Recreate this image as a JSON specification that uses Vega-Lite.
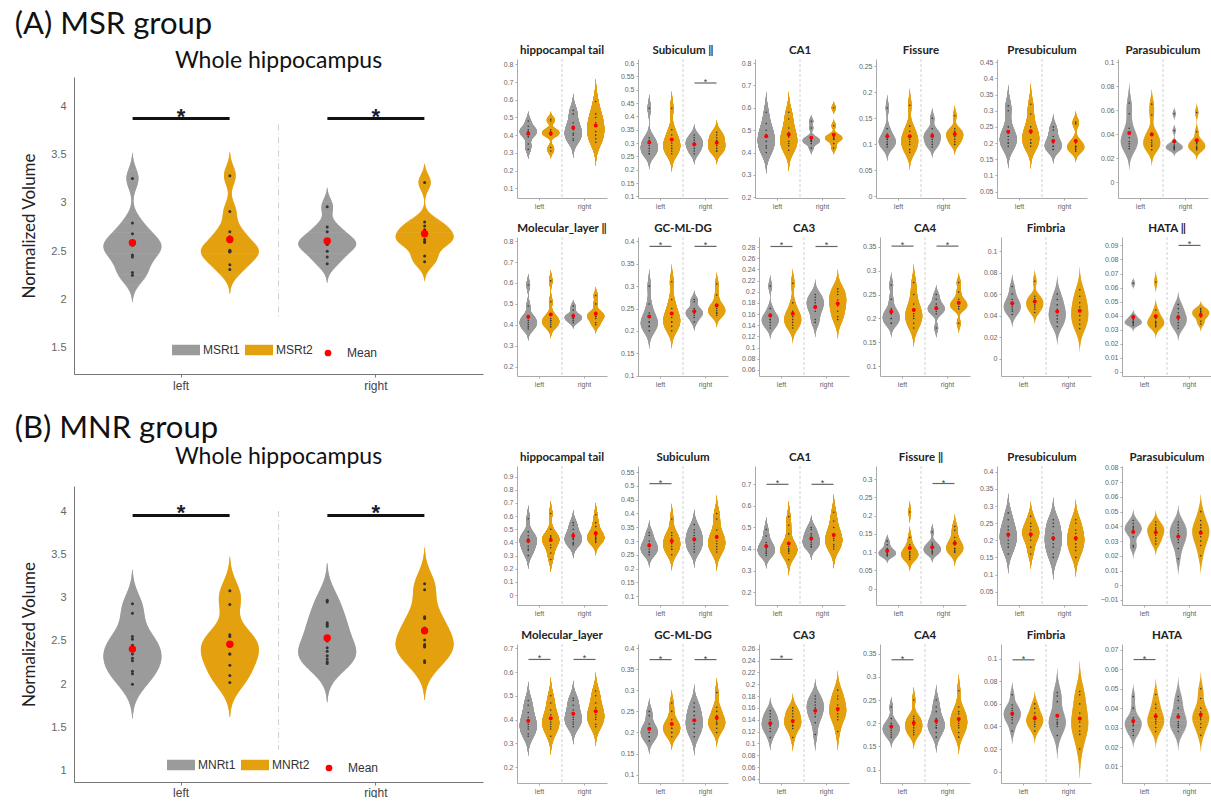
{
"$schema": "https://vega.github.io/schema/vega-lite/v6.json",
"padding": {"left": 14, "top": 8, "right": 0, "bottom": 0},
"config": {"view": {"stroke": null}, "font": "Liberation Sans", "axis": {"grid": false}},
"datasets": {
"WA": [
{"s":"left","t":"t1","v":3.25},{"s":"left","t":"t1","v":2.79},{"s":"left","t":"t1","v":2.68},{"s":"left","t":"t1","v":2.58},{"s":"left","t":"t1","v":2.57},{"s":"left","t":"t1","v":2.56},{"s":"left","t":"t1","v":2.46},{"s":"left","t":"t1","v":2.44},{"s":"left","t":"t1","v":2.28},{"s":"left","t":"t1","v":2.25},
{"s":"left","t":"t2","v":3.28},{"s":"left","t":"t2","v":2.91},{"s":"left","t":"t2","v":2.70},{"s":"left","t":"t2","v":2.65},{"s":"left","t":"t2","v":2.51},{"s":"left","t":"t2","v":2.50},{"s":"left","t":"t2","v":2.50},{"s":"left","t":"t2","v":2.49},{"s":"left","t":"t2","v":2.36},{"s":"left","t":"t2","v":2.31},
{"s":"right","t":"t1","v":2.96},{"s":"right","t":"t1","v":2.75},{"s":"right","t":"t1","v":2.70},{"s":"right","t":"t1","v":2.60},{"s":"right","t":"t1","v":2.60},{"s":"right","t":"t1","v":2.57},{"s":"right","t":"t1","v":2.57},{"s":"right","t":"t1","v":2.50},{"s":"right","t":"t1","v":2.44},{"s":"right","t":"t1","v":2.37},
{"s":"right","t":"t2","v":3.21},{"s":"right","t":"t2","v":2.80},{"s":"right","t":"t2","v":2.76},{"s":"right","t":"t2","v":2.72},{"s":"right","t":"t2","v":2.66},{"s":"right","t":"t2","v":2.62},{"s":"right","t":"t2","v":2.60},{"s":"right","t":"t2","v":2.59},{"s":"right","t":"t2","v":2.45},{"s":"right","t":"t2","v":2.39},
{"s":"left","k":"sig","v":3.87},{"s":"right","k":"sig","v":3.87}
],
"WB": [
{"s":"left","t":"t1","v":2.93},{"s":"left","t":"t1","v":2.82},{"s":"left","t":"t1","v":2.55},{"s":"left","t":"t1","v":2.52},{"s":"left","t":"t1","v":2.45},{"s":"left","t":"t1","v":2.35},{"s":"left","t":"t1","v":2.30},{"s":"left","t":"t1","v":2.27},{"s":"left","t":"t1","v":2.15},{"s":"left","t":"t1","v":2.12},{"s":"left","t":"t1","v":2.00},
{"s":"left","t":"t2","v":3.08},{"s":"left","t":"t2","v":2.92},{"s":"left","t":"t2","v":2.57},{"s":"left","t":"t2","v":2.55},{"s":"left","t":"t2","v":2.46},{"s":"left","t":"t2","v":2.35},{"s":"left","t":"t2","v":2.35},{"s":"left","t":"t2","v":2.22},{"s":"left","t":"t2","v":2.10},{"s":"left","t":"t2","v":2.02},
{"s":"right","t":"t1","v":2.97},{"s":"right","t":"t1","v":2.95},{"s":"right","t":"t1","v":2.71},{"s":"right","t":"t1","v":2.69},{"s":"right","t":"t1","v":2.67},{"s":"right","t":"t1","v":2.50},{"s":"right","t":"t1","v":2.42},{"s":"right","t":"t1","v":2.38},{"s":"right","t":"t1","v":2.33},{"s":"right","t":"t1","v":2.29},{"s":"right","t":"t1","v":2.26},{"s":"right","t":"t1","v":2.24},
{"s":"right","t":"t2","v":3.16},{"s":"right","t":"t2","v":3.09},{"s":"right","t":"t2","v":2.78},{"s":"right","t":"t2","v":2.76},{"s":"right","t":"t2","v":2.65},{"s":"right","t":"t2","v":2.51},{"s":"right","t":"t2","v":2.46},{"s":"right","t":"t2","v":2.44},{"s":"right","t":"t2","v":2.43},{"s":"right","t":"t2","v":2.27},{"s":"right","t":"t2","v":2.25},
{"s":"left","k":"sig","v":3.95},{"s":"right","k":"sig","v":3.95}
],
"A": [
{"r":"hippocampal tail","s":"left","t":"t1","v":0.48},{"r":"hippocampal tail","s":"left","t":"t1","v":0.45},{"r":"hippocampal tail","s":"left","t":"t1","v":0.43},{"r":"hippocampal tail","s":"left","t":"t1","v":0.42},{"r":"hippocampal tail","s":"left","t":"t1","v":0.42},{"r":"hippocampal tail","s":"left","t":"t1","v":0.41},{"r":"hippocampal tail","s":"left","t":"t1","v":0.39},{"r":"hippocampal tail","s":"left","t":"t1","v":0.35},{"r":"hippocampal tail","s":"left","t":"t1","v":0.32},
{"r":"hippocampal tail","s":"left","t":"t2","v":0.49},{"r":"hippocampal tail","s":"left","t":"t2","v":0.48},{"r":"hippocampal tail","s":"left","t":"t2","v":0.43},{"r":"hippocampal tail","s":"left","t":"t2","v":0.42},{"r":"hippocampal tail","s":"left","t":"t2","v":0.41},{"r":"hippocampal tail","s":"left","t":"t2","v":0.41},{"r":"hippocampal tail","s":"left","t":"t2","v":0.40},{"r":"hippocampal tail","s":"left","t":"t2","v":0.33},{"r":"hippocampal tail","s":"left","t":"t2","v":0.31},
{"r":"hippocampal tail","s":"right","t":"t1","v":0.54},{"r":"hippocampal tail","s":"right","t":"t1","v":0.52},{"r":"hippocampal tail","s":"right","t":"t1","v":0.47},{"r":"hippocampal tail","s":"right","t":"t1","v":0.45},{"r":"hippocampal tail","s":"right","t":"t1","v":0.43},{"r":"hippocampal tail","s":"right","t":"t1","v":0.41},{"r":"hippocampal tail","s":"right","t":"t1","v":0.40},{"r":"hippocampal tail","s":"right","t":"t1","v":0.38},{"r":"hippocampal tail","s":"right","t":"t1","v":0.37},
{"r":"hippocampal tail","s":"right","t":"t2","v":0.59},{"r":"hippocampal tail","s":"right","t":"t2","v":0.52},{"r":"hippocampal tail","s":"right","t":"t2","v":0.50},{"r":"hippocampal tail","s":"right","t":"t2","v":0.47},{"r":"hippocampal tail","s":"right","t":"t2","v":0.45},{"r":"hippocampal tail","s":"right","t":"t2","v":0.42},{"r":"hippocampal tail","s":"right","t":"t2","v":0.40},{"r":"hippocampal tail","s":"right","t":"t2","v":0.38},{"r":"hippocampal tail","s":"right","t":"t2","v":0.36},
{"r":"hippocampal tail","k":"lim","v":0.045},{"r":"hippocampal tail","k":"lim","v":0.83},
{"r":"Subiculum","s":"left","t":"t1","v":0.43},{"r":"Subiculum","s":"left","t":"t1","v":0.32},{"r":"Subiculum","s":"left","t":"t1","v":0.31},{"r":"Subiculum","s":"left","t":"t1","v":0.30},{"r":"Subiculum","s":"left","t":"t1","v":0.29},{"r":"Subiculum","s":"left","t":"t1","v":0.28},{"r":"Subiculum","s":"left","t":"t1","v":0.27},{"r":"Subiculum","s":"left","t":"t1","v":0.26},{"r":"Subiculum","s":"left","t":"t1","v":0.26},
{"r":"Subiculum","s":"left","t":"t2","v":0.43},{"r":"Subiculum","s":"left","t":"t2","v":0.35},{"r":"Subiculum","s":"left","t":"t2","v":0.33},{"r":"Subiculum","s":"left","t":"t2","v":0.31},{"r":"Subiculum","s":"left","t":"t2","v":0.30},{"r":"Subiculum","s":"left","t":"t2","v":0.29},{"r":"Subiculum","s":"left","t":"t2","v":0.28},{"r":"Subiculum","s":"left","t":"t2","v":0.27},{"r":"Subiculum","s":"left","t":"t2","v":0.26},
{"r":"Subiculum","s":"right","t":"t1","v":0.33},{"r":"Subiculum","s":"right","t":"t1","v":0.32},{"r":"Subiculum","s":"right","t":"t1","v":0.31},{"r":"Subiculum","s":"right","t":"t1","v":0.30},{"r":"Subiculum","s":"right","t":"t1","v":0.30},{"r":"Subiculum","s":"right","t":"t1","v":0.29},{"r":"Subiculum","s":"right","t":"t1","v":0.28},{"r":"Subiculum","s":"right","t":"t1","v":0.27},{"r":"Subiculum","s":"right","t":"t1","v":0.26},
{"r":"Subiculum","s":"right","t":"t2","v":0.34},{"r":"Subiculum","s":"right","t":"t2","v":0.33},{"r":"Subiculum","s":"right","t":"t2","v":0.32},{"r":"Subiculum","s":"right","t":"t2","v":0.31},{"r":"Subiculum","s":"right","t":"t2","v":0.30},{"r":"Subiculum","s":"right","t":"t2","v":0.29},{"r":"Subiculum","s":"right","t":"t2","v":0.28},{"r":"Subiculum","s":"right","t":"t2","v":0.27},{"r":"Subiculum","s":"right","t":"t2","v":0.27},
{"r":"Subiculum","s":"right","k":"sig","v":0.525},{"r":"Subiculum","k":"lim","v":0.094},{"r":"Subiculum","k":"lim","v":0.615},
{"r":"CA1","s":"left","t":"t1","v":0.58},{"r":"CA1","s":"left","t":"t1","v":0.53},{"r":"CA1","s":"left","t":"t1","v":0.50},{"r":"CA1","s":"left","t":"t1","v":0.48},{"r":"CA1","s":"left","t":"t1","v":0.47},{"r":"CA1","s":"left","t":"t1","v":0.45},{"r":"CA1","s":"left","t":"t1","v":0.43},{"r":"CA1","s":"left","t":"t1","v":0.42},{"r":"CA1","s":"left","t":"t1","v":0.40},
{"r":"CA1","s":"left","t":"t2","v":0.58},{"r":"CA1","s":"left","t":"t2","v":0.55},{"r":"CA1","s":"left","t":"t2","v":0.51},{"r":"CA1","s":"left","t":"t2","v":0.49},{"r":"CA1","s":"left","t":"t2","v":0.47},{"r":"CA1","s":"left","t":"t2","v":0.45},{"r":"CA1","s":"left","t":"t2","v":0.44},{"r":"CA1","s":"left","t":"t2","v":0.43},{"r":"CA1","s":"left","t":"t2","v":0.41},
{"r":"CA1","s":"right","t":"t1","v":0.54},{"r":"CA1","s":"right","t":"t1","v":0.51},{"r":"CA1","s":"right","t":"t1","v":0.47},{"r":"CA1","s":"right","t":"t1","v":0.46},{"r":"CA1","s":"right","t":"t1","v":0.455},{"r":"CA1","s":"right","t":"t1","v":0.45},{"r":"CA1","s":"right","t":"t1","v":0.45},{"r":"CA1","s":"right","t":"t1","v":0.44},{"r":"CA1","s":"right","t":"t1","v":0.42},
{"r":"CA1","s":"right","t":"t2","v":0.60},{"r":"CA1","s":"right","t":"t2","v":0.52},{"r":"CA1","s":"right","t":"t2","v":0.48},{"r":"CA1","s":"right","t":"t2","v":0.47},{"r":"CA1","s":"right","t":"t2","v":0.465},{"r":"CA1","s":"right","t":"t2","v":0.46},{"r":"CA1","s":"right","t":"t2","v":0.46},{"r":"CA1","s":"right","t":"t2","v":0.44},{"r":"CA1","s":"right","t":"t2","v":0.42},
{"r":"CA1","k":"lim","v":0.197},{"r":"CA1","k":"lim","v":0.818},
{"r":"Fissure","s":"left","t":"t1","v":0.17},{"r":"Fissure","s":"left","t":"t1","v":0.13},{"r":"Fissure","s":"left","t":"t1","v":0.12},{"r":"Fissure","s":"left","t":"t1","v":0.11},{"r":"Fissure","s":"left","t":"t1","v":0.11},{"r":"Fissure","s":"left","t":"t1","v":0.105},{"r":"Fissure","s":"left","t":"t1","v":0.10},{"r":"Fissure","s":"left","t":"t1","v":0.10},{"r":"Fissure","s":"left","t":"t1","v":0.095},
{"r":"Fissure","s":"left","t":"t2","v":0.175},{"r":"Fissure","s":"left","t":"t2","v":0.135},{"r":"Fissure","s":"left","t":"t2","v":0.125},{"r":"Fissure","s":"left","t":"t2","v":0.115},{"r":"Fissure","s":"left","t":"t2","v":0.11},{"r":"Fissure","s":"left","t":"t2","v":0.105},{"r":"Fissure","s":"left","t":"t2","v":0.10},{"r":"Fissure","s":"left","t":"t2","v":0.09},{"r":"Fissure","s":"left","t":"t2","v":0.085},
{"r":"Fissure","s":"right","t":"t1","v":0.15},{"r":"Fissure","s":"right","t":"t1","v":0.13},{"r":"Fissure","s":"right","t":"t1","v":0.12},{"r":"Fissure","s":"right","t":"t1","v":0.12},{"r":"Fissure","s":"right","t":"t1","v":0.115},{"r":"Fissure","s":"right","t":"t1","v":0.11},{"r":"Fissure","s":"right","t":"t1","v":0.105},{"r":"Fissure","s":"right","t":"t1","v":0.10},{"r":"Fissure","s":"right","t":"t1","v":0.095},
{"r":"Fissure","s":"right","t":"t2","v":0.155},{"r":"Fissure","s":"right","t":"t2","v":0.13},{"r":"Fissure","s":"right","t":"t2","v":0.125},{"r":"Fissure","s":"right","t":"t2","v":0.12},{"r":"Fissure","s":"right","t":"t2","v":0.12},{"r":"Fissure","s":"right","t":"t2","v":0.115},{"r":"Fissure","s":"right","t":"t2","v":0.11},{"r":"Fissure","s":"right","t":"t2","v":0.105},{"r":"Fissure","s":"right","t":"t2","v":0.10},
{"r":"Fissure","k":"lim","v":-0.003},{"r":"Fissure","k":"lim","v":0.264},
{"r":"Presubiculum","s":"left","t":"t1","v":0.315},{"r":"Presubiculum","s":"left","t":"t1","v":0.30},{"r":"Presubiculum","s":"left","t":"t1","v":0.25},{"r":"Presubiculum","s":"left","t":"t1","v":0.23},{"r":"Presubiculum","s":"left","t":"t1","v":0.22},{"r":"Presubiculum","s":"left","t":"t1","v":0.21},{"r":"Presubiculum","s":"left","t":"t1","v":0.20},{"r":"Presubiculum","s":"left","t":"t1","v":0.20},{"r":"Presubiculum","s":"left","t":"t1","v":0.19},
{"r":"Presubiculum","s":"left","t":"t2","v":0.32},{"r":"Presubiculum","s":"left","t":"t2","v":0.29},{"r":"Presubiculum","s":"left","t":"t2","v":0.25},{"r":"Presubiculum","s":"left","t":"t2","v":0.24},{"r":"Presubiculum","s":"left","t":"t2","v":0.23},{"r":"Presubiculum","s":"left","t":"t2","v":0.21},{"r":"Presubiculum","s":"left","t":"t2","v":0.20},{"r":"Presubiculum","s":"left","t":"t2","v":0.20},{"r":"Presubiculum","s":"left","t":"t2","v":0.19},
{"r":"Presubiculum","s":"right","t":"t1","v":0.25},{"r":"Presubiculum","s":"right","t":"t1","v":0.24},{"r":"Presubiculum","s":"right","t":"t1","v":0.22},{"r":"Presubiculum","s":"right","t":"t1","v":0.21},{"r":"Presubiculum","s":"right","t":"t1","v":0.20},{"r":"Presubiculum","s":"right","t":"t1","v":0.19},{"r":"Presubiculum","s":"right","t":"t1","v":0.19},{"r":"Presubiculum","s":"right","t":"t1","v":0.18},{"r":"Presubiculum","s":"right","t":"t1","v":0.18},
{"r":"Presubiculum","s":"right","t":"t2","v":0.265},{"r":"Presubiculum","s":"right","t":"t2","v":0.26},{"r":"Presubiculum","s":"right","t":"t2","v":0.21},{"r":"Presubiculum","s":"right","t":"t2","v":0.20},{"r":"Presubiculum","s":"right","t":"t2","v":0.19},{"r":"Presubiculum","s":"right","t":"t2","v":0.19},{"r":"Presubiculum","s":"right","t":"t2","v":0.185},{"r":"Presubiculum","s":"right","t":"t2","v":0.18},{"r":"Presubiculum","s":"right","t":"t2","v":0.175},
{"r":"Presubiculum","k":"lim","v":0.03},{"r":"Presubiculum","k":"lim","v":0.46},
{"r":"Parasubiculum","s":"left","t":"t1","v":0.066},{"r":"Parasubiculum","s":"left","t":"t1","v":0.057},{"r":"Parasubiculum","s":"left","t":"t1","v":0.045},{"r":"Parasubiculum","s":"left","t":"t1","v":0.040},{"r":"Parasubiculum","s":"left","t":"t1","v":0.037},{"r":"Parasubiculum","s":"left","t":"t1","v":0.034},{"r":"Parasubiculum","s":"left","t":"t1","v":0.032},{"r":"Parasubiculum","s":"left","t":"t1","v":0.030},{"r":"Parasubiculum","s":"left","t":"t1","v":0.028},
{"r":"Parasubiculum","s":"left","t":"t2","v":0.065},{"r":"Parasubiculum","s":"left","t":"t2","v":0.056},{"r":"Parasubiculum","s":"left","t":"t2","v":0.041},{"r":"Parasubiculum","s":"left","t":"t2","v":0.040},{"r":"Parasubiculum","s":"left","t":"t2","v":0.035},{"r":"Parasubiculum","s":"left","t":"t2","v":0.033},{"r":"Parasubiculum","s":"left","t":"t2","v":0.031},{"r":"Parasubiculum","s":"left","t":"t2","v":0.030},{"r":"Parasubiculum","s":"left","t":"t2","v":0.027},
{"r":"Parasubiculum","s":"right","t":"t1","v":0.057},{"r":"Parasubiculum","s":"right","t":"t1","v":0.043},{"r":"Parasubiculum","s":"right","t":"t1","v":0.033},{"r":"Parasubiculum","s":"right","t":"t1","v":0.031},{"r":"Parasubiculum","s":"right","t":"t1","v":0.030},{"r":"Parasubiculum","s":"right","t":"t1","v":0.029},{"r":"Parasubiculum","s":"right","t":"t1","v":0.029},{"r":"Parasubiculum","s":"right","t":"t1","v":0.028},{"r":"Parasubiculum","s":"right","t":"t1","v":0.027},
{"r":"Parasubiculum","s":"right","t":"t2","v":0.058},{"r":"Parasubiculum","s":"right","t":"t2","v":0.042},{"r":"Parasubiculum","s":"right","t":"t2","v":0.035},{"r":"Parasubiculum","s":"right","t":"t2","v":0.033},{"r":"Parasubiculum","s":"right","t":"t2","v":0.032},{"r":"Parasubiculum","s":"right","t":"t2","v":0.030},{"r":"Parasubiculum","s":"right","t":"t2","v":0.029},{"r":"Parasubiculum","s":"right","t":"t2","v":0.028},{"r":"Parasubiculum","s":"right","t":"t2","v":0.027},
{"r":"Parasubiculum","k":"lim","v":-0.013},{"r":"Parasubiculum","k":"lim","v":0.1025},
{"r":"Molecular_layer","s":"left","t":"t1","v":0.59},{"r":"Molecular_layer","s":"left","t":"t1","v":0.49},{"r":"Molecular_layer","s":"left","t":"t1","v":0.44},{"r":"Molecular_layer","s":"left","t":"t1","v":0.43},{"r":"Molecular_layer","s":"left","t":"t1","v":0.42},{"r":"Molecular_layer","s":"left","t":"t1","v":0.41},{"r":"Molecular_layer","s":"left","t":"t1","v":0.40},{"r":"Molecular_layer","s":"left","t":"t1","v":0.39},{"r":"Molecular_layer","s":"left","t":"t1","v":0.38},
{"r":"Molecular_layer","s":"left","t":"t2","v":0.61},{"r":"Molecular_layer","s":"left","t":"t2","v":0.51},{"r":"Molecular_layer","s":"left","t":"t2","v":0.45},{"r":"Molecular_layer","s":"left","t":"t2","v":0.43},{"r":"Molecular_layer","s":"left","t":"t2","v":0.42},{"r":"Molecular_layer","s":"left","t":"t2","v":0.42},{"r":"Molecular_layer","s":"left","t":"t2","v":0.41},{"r":"Molecular_layer","s":"left","t":"t2","v":0.40},{"r":"Molecular_layer","s":"left","t":"t2","v":0.39},
{"r":"Molecular_layer","s":"right","t":"t1","v":0.49},{"r":"Molecular_layer","s":"right","t":"t1","v":0.47},{"r":"Molecular_layer","s":"right","t":"t1","v":0.45},{"r":"Molecular_layer","s":"right","t":"t1","v":0.44},{"r":"Molecular_layer","s":"right","t":"t1","v":0.44},{"r":"Molecular_layer","s":"right","t":"t1","v":0.43},{"r":"Molecular_layer","s":"right","t":"t1","v":0.43},{"r":"Molecular_layer","s":"right","t":"t1","v":0.42},{"r":"Molecular_layer","s":"right","t":"t1","v":0.41},
{"r":"Molecular_layer","s":"right","t":"t2","v":0.54},{"r":"Molecular_layer","s":"right","t":"t2","v":0.50},{"r":"Molecular_layer","s":"right","t":"t2","v":0.46},{"r":"Molecular_layer","s":"right","t":"t2","v":0.45},{"r":"Molecular_layer","s":"right","t":"t2","v":0.44},{"r":"Molecular_layer","s":"right","t":"t2","v":0.44},{"r":"Molecular_layer","s":"right","t":"t2","v":0.43},{"r":"Molecular_layer","s":"right","t":"t2","v":0.41},{"r":"Molecular_layer","s":"right","t":"t2","v":0.40},
{"r":"Molecular_layer","k":"lim","v":0.155},{"r":"Molecular_layer","k":"lim","v":0.82},
{"r":"GC-ML-DG","s":"left","t":"t1","v":0.30},{"r":"GC-ML-DG","s":"left","t":"t1","v":0.26},{"r":"GC-ML-DG","s":"left","t":"t1","v":0.24},{"r":"GC-ML-DG","s":"left","t":"t1","v":0.23},{"r":"GC-ML-DG","s":"left","t":"t1","v":0.22},{"r":"GC-ML-DG","s":"left","t":"t1","v":0.22},{"r":"GC-ML-DG","s":"left","t":"t1","v":0.21},{"r":"GC-ML-DG","s":"left","t":"t1","v":0.21},{"r":"GC-ML-DG","s":"left","t":"t1","v":0.20},
{"r":"GC-ML-DG","s":"left","t":"t2","v":0.31},{"r":"GC-ML-DG","s":"left","t":"t2","v":0.27},{"r":"GC-ML-DG","s":"left","t":"t2","v":0.25},{"r":"GC-ML-DG","s":"left","t":"t2","v":0.24},{"r":"GC-ML-DG","s":"left","t":"t2","v":0.23},{"r":"GC-ML-DG","s":"left","t":"t2","v":0.22},{"r":"GC-ML-DG","s":"left","t":"t2","v":0.22},{"r":"GC-ML-DG","s":"left","t":"t2","v":0.21},{"r":"GC-ML-DG","s":"left","t":"t2","v":0.20},
{"r":"GC-ML-DG","s":"right","t":"t1","v":0.27},{"r":"GC-ML-DG","s":"right","t":"t1","v":0.265},{"r":"GC-ML-DG","s":"right","t":"t1","v":0.25},{"r":"GC-ML-DG","s":"right","t":"t1","v":0.245},{"r":"GC-ML-DG","s":"right","t":"t1","v":0.24},{"r":"GC-ML-DG","s":"right","t":"t1","v":0.24},{"r":"GC-ML-DG","s":"right","t":"t1","v":0.235},{"r":"GC-ML-DG","s":"right","t":"t1","v":0.23},{"r":"GC-ML-DG","s":"right","t":"t1","v":0.22},
{"r":"GC-ML-DG","s":"right","t":"t2","v":0.305},{"r":"GC-ML-DG","s":"right","t":"t2","v":0.28},{"r":"GC-ML-DG","s":"right","t":"t2","v":0.26},{"r":"GC-ML-DG","s":"right","t":"t2","v":0.255},{"r":"GC-ML-DG","s":"right","t":"t2","v":0.25},{"r":"GC-ML-DG","s":"right","t":"t2","v":0.245},{"r":"GC-ML-DG","s":"right","t":"t2","v":0.24},{"r":"GC-ML-DG","s":"right","t":"t2","v":0.24},{"r":"GC-ML-DG","s":"right","t":"t2","v":0.235},
{"r":"GC-ML-DG","s":"left","k":"sig","v":0.389},{"r":"GC-ML-DG","s":"right","k":"sig","v":0.389},{"r":"GC-ML-DG","k":"lim","v":0.099},{"r":"GC-ML-DG","k":"lim","v":0.41},
{"r":"CA3","s":"left","t":"t1","v":0.21},{"r":"CA3","s":"left","t":"t1","v":0.17},{"r":"CA3","s":"left","t":"t1","v":0.16},{"r":"CA3","s":"left","t":"t1","v":0.155},{"r":"CA3","s":"left","t":"t1","v":0.15},{"r":"CA3","s":"left","t":"t1","v":0.15},{"r":"CA3","s":"left","t":"t1","v":0.145},{"r":"CA3","s":"left","t":"t1","v":0.14},{"r":"CA3","s":"left","t":"t1","v":0.135},
{"r":"CA3","s":"left","t":"t2","v":0.215},{"r":"CA3","s":"left","t":"t2","v":0.18},{"r":"CA3","s":"left","t":"t2","v":0.165},{"r":"CA3","s":"left","t":"t2","v":0.16},{"r":"CA3","s":"left","t":"t2","v":0.155},{"r":"CA3","s":"left","t":"t2","v":0.15},{"r":"CA3","s":"left","t":"t2","v":0.145},{"r":"CA3","s":"left","t":"t2","v":0.14},{"r":"CA3","s":"left","t":"t2","v":0.135},
{"r":"CA3","s":"right","t":"t1","v":0.195},{"r":"CA3","s":"right","t":"t1","v":0.19},{"r":"CA3","s":"right","t":"t1","v":0.185},{"r":"CA3","s":"right","t":"t1","v":0.18},{"r":"CA3","s":"right","t":"t1","v":0.175},{"r":"CA3","s":"right","t":"t1","v":0.17},{"r":"CA3","s":"right","t":"t1","v":0.165},{"r":"CA3","s":"right","t":"t1","v":0.15},{"r":"CA3","s":"right","t":"t1","v":0.145},
{"r":"CA3","s":"right","t":"t2","v":0.205},{"r":"CA3","s":"right","t":"t2","v":0.20},{"r":"CA3","s":"right","t":"t2","v":0.195},{"r":"CA3","s":"right","t":"t2","v":0.185},{"r":"CA3","s":"right","t":"t2","v":0.18},{"r":"CA3","s":"right","t":"t2","v":0.175},{"r":"CA3","s":"right","t":"t2","v":0.165},{"r":"CA3","s":"right","t":"t2","v":0.155},{"r":"CA3","s":"right","t":"t2","v":0.15},
{"r":"CA3","s":"left","k":"sig","v":0.281},{"r":"CA3","s":"right","k":"sig","v":0.281},{"r":"CA3","k":"lim","v":0.049},{"r":"CA3","k":"lim","v":0.298},
{"r":"CA4","s":"left","t":"t1","v":0.27},{"r":"CA4","s":"left","t":"t1","v":0.24},{"r":"CA4","s":"left","t":"t1","v":0.22},{"r":"CA4","s":"left","t":"t1","v":0.21},{"r":"CA4","s":"left","t":"t1","v":0.21},{"r":"CA4","s":"left","t":"t1","v":0.20},{"r":"CA4","s":"left","t":"t1","v":0.20},{"r":"CA4","s":"left","t":"t1","v":0.19},{"r":"CA4","s":"left","t":"t1","v":0.19},
{"r":"CA4","s":"left","t":"t2","v":0.275},{"r":"CA4","s":"left","t":"t2","v":0.25},{"r":"CA4","s":"left","t":"t2","v":0.23},{"r":"CA4","s":"left","t":"t2","v":0.22},{"r":"CA4","s":"left","t":"t2","v":0.21},{"r":"CA4","s":"left","t":"t2","v":0.205},{"r":"CA4","s":"left","t":"t2","v":0.20},{"r":"CA4","s":"left","t":"t2","v":0.19},{"r":"CA4","s":"left","t":"t2","v":0.18},
{"r":"CA4","s":"right","t":"t1","v":0.25},{"r":"CA4","s":"right","t":"t1","v":0.24},{"r":"CA4","s":"right","t":"t1","v":0.23},{"r":"CA4","s":"right","t":"t1","v":0.225},{"r":"CA4","s":"right","t":"t1","v":0.22},{"r":"CA4","s":"right","t":"t1","v":0.22},{"r":"CA4","s":"right","t":"t1","v":0.215},{"r":"CA4","s":"right","t":"t1","v":0.21},{"r":"CA4","s":"right","t":"t1","v":0.18},
{"r":"CA4","s":"right","t":"t2","v":0.275},{"r":"CA4","s":"right","t":"t2","v":0.255},{"r":"CA4","s":"right","t":"t2","v":0.24},{"r":"CA4","s":"right","t":"t2","v":0.235},{"r":"CA4","s":"right","t":"t2","v":0.23},{"r":"CA4","s":"right","t":"t2","v":0.225},{"r":"CA4","s":"right","t":"t2","v":0.225},{"r":"CA4","s":"right","t":"t2","v":0.22},{"r":"CA4","s":"right","t":"t2","v":0.19},
{"r":"CA4","s":"left","k":"sig","v":0.351},{"r":"CA4","s":"right","k":"sig","v":0.351},{"r":"CA4","k":"lim","v":0.08},{"r":"CA4","k":"lim","v":0.37},
{"r":"Fimbria","s":"left","t":"t1","v":0.067},{"r":"Fimbria","s":"left","t":"t1","v":0.060},{"r":"Fimbria","s":"left","t":"t1","v":0.055},{"r":"Fimbria","s":"left","t":"t1","v":0.052},{"r":"Fimbria","s":"left","t":"t1","v":0.050},{"r":"Fimbria","s":"left","t":"t1","v":0.048},{"r":"Fimbria","s":"left","t":"t1","v":0.046},{"r":"Fimbria","s":"left","t":"t1","v":0.044},{"r":"Fimbria","s":"left","t":"t1","v":0.041},
{"r":"Fimbria","s":"left","t":"t2","v":0.072},{"r":"Fimbria","s":"left","t":"t2","v":0.058},{"r":"Fimbria","s":"left","t":"t2","v":0.056},{"r":"Fimbria","s":"left","t":"t2","v":0.054},{"r":"Fimbria","s":"left","t":"t2","v":0.052},{"r":"Fimbria","s":"left","t":"t2","v":0.050},{"r":"Fimbria","s":"left","t":"t2","v":0.048},{"r":"Fimbria","s":"left","t":"t2","v":0.046},{"r":"Fimbria","s":"left","t":"t2","v":0.043},
{"r":"Fimbria","s":"right","t":"t1","v":0.060},{"r":"Fimbria","s":"right","t":"t1","v":0.055},{"r":"Fimbria","s":"right","t":"t1","v":0.050},{"r":"Fimbria","s":"right","t":"t1","v":0.046},{"r":"Fimbria","s":"right","t":"t1","v":0.043},{"r":"Fimbria","s":"right","t":"t1","v":0.040},{"r":"Fimbria","s":"right","t":"t1","v":0.037},{"r":"Fimbria","s":"right","t":"t1","v":0.034},{"r":"Fimbria","s":"right","t":"t1","v":0.030},
{"r":"Fimbria","s":"right","t":"t2","v":0.064},{"r":"Fimbria","s":"right","t":"t2","v":0.058},{"r":"Fimbria","s":"right","t":"t2","v":0.052},{"r":"Fimbria","s":"right","t":"t2","v":0.048},{"r":"Fimbria","s":"right","t":"t2","v":0.044},{"r":"Fimbria","s":"right","t":"t2","v":0.040},{"r":"Fimbria","s":"right","t":"t2","v":0.036},{"r":"Fimbria","s":"right","t":"t2","v":0.032},{"r":"Fimbria","s":"right","t":"t2","v":0.028},
{"r":"Fimbria","k":"lim","v":-0.016},{"r":"Fimbria","k":"lim","v":0.113},
{"r":"HATA","s":"left","t":"t1","v":0.063},{"r":"HATA","s":"left","t":"t1","v":0.040},{"r":"HATA","s":"left","t":"t1","v":0.038},{"r":"HATA","s":"left","t":"t1","v":0.037},{"r":"HATA","s":"left","t":"t1","v":0.036},{"r":"HATA","s":"left","t":"t1","v":0.035},{"r":"HATA","s":"left","t":"t1","v":0.035},{"r":"HATA","s":"left","t":"t1","v":0.034},{"r":"HATA","s":"left","t":"t1","v":0.033},
{"r":"HATA","s":"left","t":"t2","v":0.064},{"r":"HATA","s":"left","t":"t2","v":0.044},{"r":"HATA","s":"left","t":"t2","v":0.040},{"r":"HATA","s":"left","t":"t2","v":0.038},{"r":"HATA","s":"left","t":"t2","v":0.036},{"r":"HATA","s":"left","t":"t2","v":0.035},{"r":"HATA","s":"left","t":"t2","v":0.034},{"r":"HATA","s":"left","t":"t2","v":0.033},{"r":"HATA","s":"left","t":"t2","v":0.032},
{"r":"HATA","s":"right","t":"t1","v":0.048},{"r":"HATA","s":"right","t":"t1","v":0.045},{"r":"HATA","s":"right","t":"t1","v":0.042},{"r":"HATA","s":"right","t":"t1","v":0.040},{"r":"HATA","s":"right","t":"t1","v":0.038},{"r":"HATA","s":"right","t":"t1","v":0.037},{"r":"HATA","s":"right","t":"t1","v":0.035},{"r":"HATA","s":"right","t":"t1","v":0.033},{"r":"HATA","s":"right","t":"t1","v":0.031},
{"r":"HATA","s":"right","t":"t2","v":0.045},{"r":"HATA","s":"right","t":"t2","v":0.044},{"r":"HATA","s":"right","t":"t2","v":0.043},{"r":"HATA","s":"right","t":"t2","v":0.042},{"r":"HATA","s":"right","t":"t2","v":0.041},{"r":"HATA","s":"right","t":"t2","v":0.040},{"r":"HATA","s":"right","t":"t2","v":0.039},{"r":"HATA","s":"right","t":"t2","v":0.036},{"r":"HATA","s":"right","t":"t2","v":0.034},
{"r":"HATA","s":"right","k":"sig","v":0.090},{"r":"HATA","k":"lim","v":-0.003},{"r":"HATA","k":"lim","v":0.096}
],
"B": [
{"r":"hippocampal tail","s":"left","t":"t1","v":0.58},{"r":"hippocampal tail","s":"left","t":"t1","v":0.48},{"r":"hippocampal tail","s":"left","t":"t1","v":0.45},{"r":"hippocampal tail","s":"left","t":"t1","v":0.43},{"r":"hippocampal tail","s":"left","t":"t1","v":0.42},{"r":"hippocampal tail","s":"left","t":"t1","v":0.42},{"r":"hippocampal tail","s":"left","t":"t1","v":0.40},{"r":"hippocampal tail","s":"left","t":"t1","v":0.37},{"r":"hippocampal tail","s":"left","t":"t1","v":0.35},{"r":"hippocampal tail","s":"left","t":"t1","v":0.34},{"r":"hippocampal tail","s":"left","t":"t1","v":0.30},
{"r":"hippocampal tail","s":"left","t":"t2","v":0.62},{"r":"hippocampal tail","s":"left","t":"t2","v":0.50},{"r":"hippocampal tail","s":"left","t":"t2","v":0.45},{"r":"hippocampal tail","s":"left","t":"t2","v":0.44},{"r":"hippocampal tail","s":"left","t":"t2","v":0.43},{"r":"hippocampal tail","s":"left","t":"t2","v":0.42},{"r":"hippocampal tail","s":"left","t":"t2","v":0.41},{"r":"hippocampal tail","s":"left","t":"t2","v":0.38},{"r":"hippocampal tail","s":"left","t":"t2","v":0.36},{"r":"hippocampal tail","s":"left","t":"t2","v":0.32},{"r":"hippocampal tail","s":"left","t":"t2","v":0.27},
{"r":"hippocampal tail","s":"right","t":"t1","v":0.55},{"r":"hippocampal tail","s":"right","t":"t1","v":0.53},{"r":"hippocampal tail","s":"right","t":"t1","v":0.50},{"r":"hippocampal tail","s":"right","t":"t1","v":0.47},{"r":"hippocampal tail","s":"right","t":"t1","v":0.45},{"r":"hippocampal tail","s":"right","t":"t1","v":0.44},{"r":"hippocampal tail","s":"right","t":"t1","v":0.43},{"r":"hippocampal tail","s":"right","t":"t1","v":0.42},{"r":"hippocampal tail","s":"right","t":"t1","v":0.40},{"r":"hippocampal tail","s":"right","t":"t1","v":0.39},{"r":"hippocampal tail","s":"right","t":"t1","v":0.38},
{"r":"hippocampal tail","s":"right","t":"t2","v":0.61},{"r":"hippocampal tail","s":"right","t":"t2","v":0.55},{"r":"hippocampal tail","s":"right","t":"t2","v":0.52},{"r":"hippocampal tail","s":"right","t":"t2","v":0.48},{"r":"hippocampal tail","s":"right","t":"t2","v":0.46},{"r":"hippocampal tail","s":"right","t":"t2","v":0.45},{"r":"hippocampal tail","s":"right","t":"t2","v":0.44},{"r":"hippocampal tail","s":"right","t":"t2","v":0.43},{"r":"hippocampal tail","s":"right","t":"t2","v":0.42},{"r":"hippocampal tail","s":"right","t":"t2","v":0.41},{"r":"hippocampal tail","s":"right","t":"t2","v":0.40},
{"r":"hippocampal tail","k":"lim","v":-0.075},{"r":"hippocampal tail","k":"lim","v":0.98},
{"r":"Subiculum","s":"left","t":"t1","v":0.33},{"r":"Subiculum","s":"left","t":"t1","v":0.32},{"r":"Subiculum","s":"left","t":"t1","v":0.30},{"r":"Subiculum","s":"left","t":"t1","v":0.29},{"r":"Subiculum","s":"left","t":"t1","v":0.28},{"r":"Subiculum","s":"left","t":"t1","v":0.28},{"r":"Subiculum","s":"left","t":"t1","v":0.27},{"r":"Subiculum","s":"left","t":"t1","v":0.26},{"r":"Subiculum","s":"left","t":"t1","v":0.26},{"r":"Subiculum","s":"left","t":"t1","v":0.25},
{"r":"Subiculum","s":"left","t":"t2","v":0.38},{"r":"Subiculum","s":"left","t":"t2","v":0.33},{"r":"Subiculum","s":"left","t":"t2","v":0.32},{"r":"Subiculum","s":"left","t":"t2","v":0.31},{"r":"Subiculum","s":"left","t":"t2","v":0.30},{"r":"Subiculum","s":"left","t":"t2","v":0.29},{"r":"Subiculum","s":"left","t":"t2","v":0.28},{"r":"Subiculum","s":"left","t":"t2","v":0.27},{"r":"Subiculum","s":"left","t":"t2","v":0.27},{"r":"Subiculum","s":"left","t":"t2","v":0.25},
{"r":"Subiculum","s":"right","t":"t1","v":0.36},{"r":"Subiculum","s":"right","t":"t1","v":0.34},{"r":"Subiculum","s":"right","t":"t1","v":0.33},{"r":"Subiculum","s":"right","t":"t1","v":0.32},{"r":"Subiculum","s":"right","t":"t1","v":0.31},{"r":"Subiculum","s":"right","t":"t1","v":0.30},{"r":"Subiculum","s":"right","t":"t1","v":0.29},{"r":"Subiculum","s":"right","t":"t1","v":0.28},{"r":"Subiculum","s":"right","t":"t1","v":0.27},{"r":"Subiculum","s":"right","t":"t1","v":0.26},
{"r":"Subiculum","s":"right","t":"t2","v":0.40},{"r":"Subiculum","s":"right","t":"t2","v":0.38},{"r":"Subiculum","s":"right","t":"t2","v":0.34},{"r":"Subiculum","s":"right","t":"t2","v":0.32},{"r":"Subiculum","s":"right","t":"t2","v":0.31},{"r":"Subiculum","s":"right","t":"t2","v":0.30},{"r":"Subiculum","s":"right","t":"t2","v":0.29},{"r":"Subiculum","s":"right","t":"t2","v":0.28},{"r":"Subiculum","s":"right","t":"t2","v":0.27},{"r":"Subiculum","s":"right","t":"t2","v":0.26},
{"r":"Subiculum","s":"left","k":"sig","v":0.508},{"r":"Subiculum","k":"lim","v":0.068},{"r":"Subiculum","k":"lim","v":0.572},
{"r":"CA1","s":"left","t":"t1","v":0.49},{"r":"CA1","s":"left","t":"t1","v":0.46},{"r":"CA1","s":"left","t":"t1","v":0.43},{"r":"CA1","s":"left","t":"t1","v":0.42},{"r":"CA1","s":"left","t":"t1","v":0.41},{"r":"CA1","s":"left","t":"t1","v":0.40},{"r":"CA1","s":"left","t":"t1","v":0.39},{"r":"CA1","s":"left","t":"t1","v":0.38},{"r":"CA1","s":"left","t":"t1","v":0.38},{"r":"CA1","s":"left","t":"t1","v":0.37},
{"r":"CA1","s":"left","t":"t2","v":0.55},{"r":"CA1","s":"left","t":"t2","v":0.51},{"r":"CA1","s":"left","t":"t2","v":0.47},{"r":"CA1","s":"left","t":"t2","v":0.43},{"r":"CA1","s":"left","t":"t2","v":0.41},{"r":"CA1","s":"left","t":"t2","v":0.40},{"r":"CA1","s":"left","t":"t2","v":0.40},{"r":"CA1","s":"left","t":"t2","v":0.39},{"r":"CA1","s":"left","t":"t2","v":0.39},{"r":"CA1","s":"left","t":"t2","v":0.38},{"r":"CA1","s":"left","t":"t2","v":0.35},
{"r":"CA1","s":"right","t":"t1","v":0.50},{"r":"CA1","s":"right","t":"t1","v":0.49},{"r":"CA1","s":"right","t":"t1","v":0.47},{"r":"CA1","s":"right","t":"t1","v":0.46},{"r":"CA1","s":"right","t":"t1","v":0.45},{"r":"CA1","s":"right","t":"t1","v":0.44},{"r":"CA1","s":"right","t":"t1","v":0.43},{"r":"CA1","s":"right","t":"t1","v":0.42},{"r":"CA1","s":"right","t":"t1","v":0.41},{"r":"CA1","s":"right","t":"t1","v":0.41},
{"r":"CA1","s":"right","t":"t2","v":0.57},{"r":"CA1","s":"right","t":"t2","v":0.53},{"r":"CA1","s":"right","t":"t2","v":0.50},{"r":"CA1","s":"right","t":"t2","v":0.47},{"r":"CA1","s":"right","t":"t2","v":0.46},{"r":"CA1","s":"right","t":"t2","v":0.45},{"r":"CA1","s":"right","t":"t2","v":0.44},{"r":"CA1","s":"right","t":"t2","v":0.42},{"r":"CA1","s":"right","t":"t2","v":0.41},{"r":"CA1","s":"right","t":"t2","v":0.40},
{"r":"CA1","s":"left","k":"sig","v":0.70},{"r":"CA1","s":"right","k":"sig","v":0.70},{"r":"CA1","k":"lim","v":0.14},{"r":"CA1","k":"lim","v":0.785},
{"r":"Fissure","s":"left","t":"t1","v":0.13},{"r":"Fissure","s":"left","t":"t1","v":0.12},{"r":"Fissure","s":"left","t":"t1","v":0.11},{"r":"Fissure","s":"left","t":"t1","v":0.105},{"r":"Fissure","s":"left","t":"t1","v":0.10},{"r":"Fissure","s":"left","t":"t1","v":0.10},{"r":"Fissure","s":"left","t":"t1","v":0.095},{"r":"Fissure","s":"left","t":"t1","v":0.095},{"r":"Fissure","s":"left","t":"t1","v":0.09},{"r":"Fissure","s":"left","t":"t1","v":0.09},
{"r":"Fissure","s":"left","t":"t2","v":0.21},{"r":"Fissure","s":"left","t":"t2","v":0.14},{"r":"Fissure","s":"left","t":"t2","v":0.12},{"r":"Fissure","s":"left","t":"t2","v":0.11},{"r":"Fissure","s":"left","t":"t2","v":0.10},{"r":"Fissure","s":"left","t":"t2","v":0.10},{"r":"Fissure","s":"left","t":"t2","v":0.095},{"r":"Fissure","s":"left","t":"t2","v":0.09},{"r":"Fissure","s":"left","t":"t2","v":0.09},{"r":"Fissure","s":"left","t":"t2","v":0.085},{"r":"Fissure","s":"left","t":"t2","v":0.08},
{"r":"Fissure","s":"right","t":"t1","v":0.155},{"r":"Fissure","s":"right","t":"t1","v":0.125},{"r":"Fissure","s":"right","t":"t1","v":0.12},{"r":"Fissure","s":"right","t":"t1","v":0.115},{"r":"Fissure","s":"right","t":"t1","v":0.11},{"r":"Fissure","s":"right","t":"t1","v":0.11},{"r":"Fissure","s":"right","t":"t1","v":0.105},{"r":"Fissure","s":"right","t":"t1","v":0.10},{"r":"Fissure","s":"right","t":"t1","v":0.10},{"r":"Fissure","s":"right","t":"t1","v":0.095},
{"r":"Fissure","s":"right","t":"t2","v":0.17},{"r":"Fissure","s":"right","t":"t2","v":0.16},{"r":"Fissure","s":"right","t":"t2","v":0.14},{"r":"Fissure","s":"right","t":"t2","v":0.13},{"r":"Fissure","s":"right","t":"t2","v":0.12},{"r":"Fissure","s":"right","t":"t2","v":0.12},{"r":"Fissure","s":"right","t":"t2","v":0.11},{"r":"Fissure","s":"right","t":"t2","v":0.11},{"r":"Fissure","s":"right","t":"t2","v":0.105},{"r":"Fissure","s":"right","t":"t2","v":0.10},{"r":"Fissure","s":"right","t":"t2","v":0.10},
{"r":"Fissure","s":"right","k":"sig","v":0.288},{"r":"Fissure","k":"lim","v":-0.045},{"r":"Fissure","k":"lim","v":0.336},
{"r":"Presubiculum","s":"left","t":"t1","v":0.28},{"r":"Presubiculum","s":"left","t":"t1","v":0.26},{"r":"Presubiculum","s":"left","t":"t1","v":0.24},{"r":"Presubiculum","s":"left","t":"t1","v":0.23},{"r":"Presubiculum","s":"left","t":"t1","v":0.22},{"r":"Presubiculum","s":"left","t":"t1","v":0.21},{"r":"Presubiculum","s":"left","t":"t1","v":0.20},{"r":"Presubiculum","s":"left","t":"t1","v":0.19},{"r":"Presubiculum","s":"left","t":"t1","v":0.18},{"r":"Presubiculum","s":"left","t":"t1","v":0.16},
{"r":"Presubiculum","s":"left","t":"t2","v":0.27},{"r":"Presubiculum","s":"left","t":"t2","v":0.25},{"r":"Presubiculum","s":"left","t":"t2","v":0.24},{"r":"Presubiculum","s":"left","t":"t2","v":0.23},{"r":"Presubiculum","s":"left","t":"t2","v":0.22},{"r":"Presubiculum","s":"left","t":"t2","v":0.22},{"r":"Presubiculum","s":"left","t":"t2","v":0.21},{"r":"Presubiculum","s":"left","t":"t2","v":0.20},{"r":"Presubiculum","s":"left","t":"t2","v":0.18},{"r":"Presubiculum","s":"left","t":"t2","v":0.16},
{"r":"Presubiculum","s":"right","t":"t1","v":0.26},{"r":"Presubiculum","s":"right","t":"t1","v":0.25},{"r":"Presubiculum","s":"right","t":"t1","v":0.24},{"r":"Presubiculum","s":"right","t":"t1","v":0.22},{"r":"Presubiculum","s":"right","t":"t1","v":0.21},{"r":"Presubiculum","s":"right","t":"t1","v":0.20},{"r":"Presubiculum","s":"right","t":"t1","v":0.19},{"r":"Presubiculum","s":"right","t":"t1","v":0.18},{"r":"Presubiculum","s":"right","t":"t1","v":0.16},{"r":"Presubiculum","s":"right","t":"t1","v":0.15},
{"r":"Presubiculum","s":"right","t":"t2","v":0.26},{"r":"Presubiculum","s":"right","t":"t2","v":0.25},{"r":"Presubiculum","s":"right","t":"t2","v":0.23},{"r":"Presubiculum","s":"right","t":"t2","v":0.22},{"r":"Presubiculum","s":"right","t":"t2","v":0.21},{"r":"Presubiculum","s":"right","t":"t2","v":0.20},{"r":"Presubiculum","s":"right","t":"t2","v":0.19},{"r":"Presubiculum","s":"right","t":"t2","v":0.18},{"r":"Presubiculum","s":"right","t":"t2","v":0.17},{"r":"Presubiculum","s":"right","t":"t2","v":0.15},
{"r":"Presubiculum","k":"lim","v":0.011},{"r":"Presubiculum","k":"lim","v":0.417},
{"r":"Parasubiculum","s":"left","t":"t1","v":0.044},{"r":"Parasubiculum","s":"left","t":"t1","v":0.042},{"r":"Parasubiculum","s":"left","t":"t1","v":0.040},{"r":"Parasubiculum","s":"left","t":"t1","v":0.039},{"r":"Parasubiculum","s":"left","t":"t1","v":0.038},{"r":"Parasubiculum","s":"left","t":"t1","v":0.037},{"r":"Parasubiculum","s":"left","t":"t1","v":0.036},{"r":"Parasubiculum","s":"left","t":"t1","v":0.033},{"r":"Parasubiculum","s":"left","t":"t1","v":0.027},{"r":"Parasubiculum","s":"left","t":"t1","v":0.026},
{"r":"Parasubiculum","s":"left","t":"t2","v":0.043},{"r":"Parasubiculum","s":"left","t":"t2","v":0.041},{"r":"Parasubiculum","s":"left","t":"t2","v":0.039},{"r":"Parasubiculum","s":"left","t":"t2","v":0.038},{"r":"Parasubiculum","s":"left","t":"t2","v":0.037},{"r":"Parasubiculum","s":"left","t":"t2","v":0.036},{"r":"Parasubiculum","s":"left","t":"t2","v":0.034},{"r":"Parasubiculum","s":"left","t":"t2","v":0.032},{"r":"Parasubiculum","s":"left","t":"t2","v":0.030},{"r":"Parasubiculum","s":"left","t":"t2","v":0.028},
{"r":"Parasubiculum","s":"right","t":"t1","v":0.043},{"r":"Parasubiculum","s":"right","t":"t1","v":0.041},{"r":"Parasubiculum","s":"right","t":"t1","v":0.039},{"r":"Parasubiculum","s":"right","t":"t1","v":0.037},{"r":"Parasubiculum","s":"right","t":"t1","v":0.035},{"r":"Parasubiculum","s":"right","t":"t1","v":0.033},{"r":"Parasubiculum","s":"right","t":"t1","v":0.031},{"r":"Parasubiculum","s":"right","t":"t1","v":0.029},{"r":"Parasubiculum","s":"right","t":"t1","v":0.025},{"r":"Parasubiculum","s":"right","t":"t1","v":0.018},
{"r":"Parasubiculum","s":"right","t":"t2","v":0.050},{"r":"Parasubiculum","s":"right","t":"t2","v":0.044},{"r":"Parasubiculum","s":"right","t":"t2","v":0.041},{"r":"Parasubiculum","s":"right","t":"t2","v":0.039},{"r":"Parasubiculum","s":"right","t":"t2","v":0.037},{"r":"Parasubiculum","s":"right","t":"t2","v":0.035},{"r":"Parasubiculum","s":"right","t":"t2","v":0.033},{"r":"Parasubiculum","s":"right","t":"t2","v":0.030},{"r":"Parasubiculum","s":"right","t":"t2","v":0.027},{"r":"Parasubiculum","s":"right","t":"t2","v":0.020},
{"r":"Parasubiculum","k":"lim","v":-0.0134},{"r":"Parasubiculum","k":"lim","v":0.081},
{"r":"Molecular_layer","s":"left","t":"t1","v":0.48},{"r":"Molecular_layer","s":"left","t":"t1","v":0.46},{"r":"Molecular_layer","s":"left","t":"t1","v":0.43},{"r":"Molecular_layer","s":"left","t":"t1","v":0.41},{"r":"Molecular_layer","s":"left","t":"t1","v":0.39},{"r":"Molecular_layer","s":"left","t":"t1","v":0.38},{"r":"Molecular_layer","s":"left","t":"t1","v":0.37},{"r":"Molecular_layer","s":"left","t":"t1","v":0.36},{"r":"Molecular_layer","s":"left","t":"t1","v":0.34},{"r":"Molecular_layer","s":"left","t":"t1","v":0.33},
{"r":"Molecular_layer","s":"left","t":"t2","v":0.50},{"r":"Molecular_layer","s":"left","t":"t2","v":0.47},{"r":"Molecular_layer","s":"left","t":"t2","v":0.44},{"r":"Molecular_layer","s":"left","t":"t2","v":0.42},{"r":"Molecular_layer","s":"left","t":"t2","v":0.40},{"r":"Molecular_layer","s":"left","t":"t2","v":0.39},{"r":"Molecular_layer","s":"left","t":"t2","v":0.38},{"r":"Molecular_layer","s":"left","t":"t2","v":0.37},{"r":"Molecular_layer","s":"left","t":"t2","v":0.36},{"r":"Molecular_layer","s":"left","t":"t2","v":0.33},
{"r":"Molecular_layer","s":"right","t":"t1","v":0.49},{"r":"Molecular_layer","s":"right","t":"t1","v":0.48},{"r":"Molecular_layer","s":"right","t":"t1","v":0.46},{"r":"Molecular_layer","s":"right","t":"t1","v":0.44},{"r":"Molecular_layer","s":"right","t":"t1","v":0.42},{"r":"Molecular_layer","s":"right","t":"t1","v":0.41},{"r":"Molecular_layer","s":"right","t":"t1","v":0.40},{"r":"Molecular_layer","s":"right","t":"t1","v":0.39},{"r":"Molecular_layer","s":"right","t":"t1","v":0.38},{"r":"Molecular_layer","s":"right","t":"t1","v":0.37},
{"r":"Molecular_layer","s":"right","t":"t2","v":0.52},{"r":"Molecular_layer","s":"right","t":"t2","v":0.50},{"r":"Molecular_layer","s":"right","t":"t2","v":0.47},{"r":"Molecular_layer","s":"right","t":"t2","v":0.45},{"r":"Molecular_layer","s":"right","t":"t2","v":0.43},{"r":"Molecular_layer","s":"right","t":"t2","v":0.42},{"r":"Molecular_layer","s":"right","t":"t2","v":0.41},{"r":"Molecular_layer","s":"right","t":"t2","v":0.40},{"r":"Molecular_layer","s":"right","t":"t2","v":0.38},{"r":"Molecular_layer","s":"right","t":"t2","v":0.37},
{"r":"Molecular_layer","s":"left","k":"sig","v":0.653},{"r":"Molecular_layer","s":"right","k":"sig","v":0.653},{"r":"Molecular_layer","k":"lim","v":0.133},{"r":"Molecular_layer","k":"lim","v":0.718},
{"r":"GC-ML-DG","s":"left","t":"t1","v":0.25},{"r":"GC-ML-DG","s":"left","t":"t1","v":0.24},{"r":"GC-ML-DG","s":"left","t":"t1","v":0.22},{"r":"GC-ML-DG","s":"left","t":"t1","v":0.21},{"r":"GC-ML-DG","s":"left","t":"t1","v":0.21},{"r":"GC-ML-DG","s":"left","t":"t1","v":0.20},{"r":"GC-ML-DG","s":"left","t":"t1","v":0.20},{"r":"GC-ML-DG","s":"left","t":"t1","v":0.19},{"r":"GC-ML-DG","s":"left","t":"t1","v":0.19},{"r":"GC-ML-DG","s":"left","t":"t1","v":0.18},
{"r":"GC-ML-DG","s":"left","t":"t2","v":0.27},{"r":"GC-ML-DG","s":"left","t":"t2","v":0.25},{"r":"GC-ML-DG","s":"left","t":"t2","v":0.23},{"r":"GC-ML-DG","s":"left","t":"t2","v":0.22},{"r":"GC-ML-DG","s":"left","t":"t2","v":0.22},{"r":"GC-ML-DG","s":"left","t":"t2","v":0.21},{"r":"GC-ML-DG","s":"left","t":"t2","v":0.21},{"r":"GC-ML-DG","s":"left","t":"t2","v":0.20},{"r":"GC-ML-DG","s":"left","t":"t2","v":0.20},{"r":"GC-ML-DG","s":"left","t":"t2","v":0.19},
{"r":"GC-ML-DG","s":"right","t":"t1","v":0.27},{"r":"GC-ML-DG","s":"right","t":"t1","v":0.26},{"r":"GC-ML-DG","s":"right","t":"t1","v":0.25},{"r":"GC-ML-DG","s":"right","t":"t1","v":0.24},{"r":"GC-ML-DG","s":"right","t":"t1","v":0.23},{"r":"GC-ML-DG","s":"right","t":"t1","v":0.22},{"r":"GC-ML-DG","s":"right","t":"t1","v":0.22},{"r":"GC-ML-DG","s":"right","t":"t1","v":0.21},{"r":"GC-ML-DG","s":"right","t":"t1","v":0.20},{"r":"GC-ML-DG","s":"right","t":"t1","v":0.19},
{"r":"GC-ML-DG","s":"right","t":"t2","v":0.295},{"r":"GC-ML-DG","s":"right","t":"t2","v":0.26},{"r":"GC-ML-DG","s":"right","t":"t2","v":0.25},{"r":"GC-ML-DG","s":"right","t":"t2","v":0.24},{"r":"GC-ML-DG","s":"right","t":"t2","v":0.23},{"r":"GC-ML-DG","s":"right","t":"t2","v":0.225},{"r":"GC-ML-DG","s":"right","t":"t2","v":0.22},{"r":"GC-ML-DG","s":"right","t":"t2","v":0.22},{"r":"GC-ML-DG","s":"right","t":"t2","v":0.21},{"r":"GC-ML-DG","s":"right","t":"t2","v":0.20},
{"r":"GC-ML-DG","s":"left","k":"sig","v":0.373},{"r":"GC-ML-DG","s":"right","k":"sig","v":0.373},{"r":"GC-ML-DG","k":"lim","v":0.08},{"r":"GC-ML-DG","k":"lim","v":0.41},
{"r":"CA3","s":"left","t":"t1","v":0.155},{"r":"CA3","s":"left","t":"t1","v":0.15},{"r":"CA3","s":"left","t":"t1","v":0.145},{"r":"CA3","s":"left","t":"t1","v":0.14},{"r":"CA3","s":"left","t":"t1","v":0.135},{"r":"CA3","s":"left","t":"t1","v":0.13},{"r":"CA3","s":"left","t":"t1","v":0.13},{"r":"CA3","s":"left","t":"t1","v":0.125},{"r":"CA3","s":"left","t":"t1","v":0.12},{"r":"CA3","s":"left","t":"t1","v":0.11},
{"r":"CA3","s":"left","t":"t2","v":0.16},{"r":"CA3","s":"left","t":"t2","v":0.155},{"r":"CA3","s":"left","t":"t2","v":0.15},{"r":"CA3","s":"left","t":"t2","v":0.145},{"r":"CA3","s":"left","t":"t2","v":0.14},{"r":"CA3","s":"left","t":"t2","v":0.135},{"r":"CA3","s":"left","t":"t2","v":0.13},{"r":"CA3","s":"left","t":"t2","v":0.13},{"r":"CA3","s":"left","t":"t2","v":0.125},{"r":"CA3","s":"left","t":"t2","v":0.11},
{"r":"CA3","s":"right","t":"t1","v":0.18},{"r":"CA3","s":"right","t":"t1","v":0.175},{"r":"CA3","s":"right","t":"t1","v":0.17},{"r":"CA3","s":"right","t":"t1","v":0.165},{"r":"CA3","s":"right","t":"t1","v":0.16},{"r":"CA3","s":"right","t":"t1","v":0.155},{"r":"CA3","s":"right","t":"t1","v":0.15},{"r":"CA3","s":"right","t":"t1","v":0.145},{"r":"CA3","s":"right","t":"t1","v":0.135},{"r":"CA3","s":"right","t":"t1","v":0.115},
{"r":"CA3","s":"right","t":"t2","v":0.19},{"r":"CA3","s":"right","t":"t2","v":0.18},{"r":"CA3","s":"right","t":"t2","v":0.175},{"r":"CA3","s":"right","t":"t2","v":0.165},{"r":"CA3","s":"right","t":"t2","v":0.16},{"r":"CA3","s":"right","t":"t2","v":0.155},{"r":"CA3","s":"right","t":"t2","v":0.15},{"r":"CA3","s":"right","t":"t2","v":0.145},{"r":"CA3","s":"right","t":"t2","v":0.14},{"r":"CA3","s":"right","t":"t2","v":0.12},
{"r":"CA3","s":"left","k":"sig","v":0.242},{"r":"CA3","k":"lim","v":0.033},{"r":"CA3","k":"lim","v":0.268},
{"r":"CA4","s":"left","t":"t1","v":0.235},{"r":"CA4","s":"left","t":"t1","v":0.21},{"r":"CA4","s":"left","t":"t1","v":0.20},{"r":"CA4","s":"left","t":"t1","v":0.195},{"r":"CA4","s":"left","t":"t1","v":0.19},{"r":"CA4","s":"left","t":"t1","v":0.19},{"r":"CA4","s":"left","t":"t1","v":0.185},{"r":"CA4","s":"left","t":"t1","v":0.18},{"r":"CA4","s":"left","t":"t1","v":0.175},{"r":"CA4","s":"left","t":"t1","v":0.17},
{"r":"CA4","s":"left","t":"t2","v":0.25},{"r":"CA4","s":"left","t":"t2","v":0.215},{"r":"CA4","s":"left","t":"t2","v":0.21},{"r":"CA4","s":"left","t":"t2","v":0.205},{"r":"CA4","s":"left","t":"t2","v":0.20},{"r":"CA4","s":"left","t":"t2","v":0.195},{"r":"CA4","s":"left","t":"t2","v":0.19},{"r":"CA4","s":"left","t":"t2","v":0.185},{"r":"CA4","s":"left","t":"t2","v":0.18},{"r":"CA4","s":"left","t":"t2","v":0.175},
{"r":"CA4","s":"right","t":"t1","v":0.25},{"r":"CA4","s":"right","t":"t1","v":0.235},{"r":"CA4","s":"right","t":"t1","v":0.225},{"r":"CA4","s":"right","t":"t1","v":0.21},{"r":"CA4","s":"right","t":"t1","v":0.205},{"r":"CA4","s":"right","t":"t1","v":0.20},{"r":"CA4","s":"right","t":"t1","v":0.195},{"r":"CA4","s":"right","t":"t1","v":0.19},{"r":"CA4","s":"right","t":"t1","v":0.19},{"r":"CA4","s":"right","t":"t1","v":0.18},{"r":"CA4","s":"right","t":"t1","v":0.17},
{"r":"CA4","s":"right","t":"t2","v":0.27},{"r":"CA4","s":"right","t":"t2","v":0.235},{"r":"CA4","s":"right","t":"t2","v":0.225},{"r":"CA4","s":"right","t":"t2","v":0.22},{"r":"CA4","s":"right","t":"t2","v":0.21},{"r":"CA4","s":"right","t":"t2","v":0.205},{"r":"CA4","s":"right","t":"t2","v":0.20},{"r":"CA4","s":"right","t":"t2","v":0.195},{"r":"CA4","s":"right","t":"t2","v":0.19},{"r":"CA4","s":"right","t":"t2","v":0.18},{"r":"CA4","s":"right","t":"t2","v":0.17},
{"r":"CA4","s":"left","k":"sig","v":0.337},{"r":"CA4","k":"lim","v":0.071},{"r":"CA4","k":"lim","v":0.371},
{"r":"Fimbria","s":"left","t":"t1","v":0.068},{"r":"Fimbria","s":"left","t":"t1","v":0.059},{"r":"Fimbria","s":"left","t":"t1","v":0.056},{"r":"Fimbria","s":"left","t":"t1","v":0.054},{"r":"Fimbria","s":"left","t":"t1","v":0.052},{"r":"Fimbria","s":"left","t":"t1","v":0.050},{"r":"Fimbria","s":"left","t":"t1","v":0.048},{"r":"Fimbria","s":"left","t":"t1","v":0.046},{"r":"Fimbria","s":"left","t":"t1","v":0.043},{"r":"Fimbria","s":"left","t":"t1","v":0.036},
{"r":"Fimbria","s":"left","t":"t2","v":0.060},{"r":"Fimbria","s":"left","t":"t2","v":0.056},{"r":"Fimbria","s":"left","t":"t2","v":0.052},{"r":"Fimbria","s":"left","t":"t2","v":0.049},{"r":"Fimbria","s":"left","t":"t2","v":0.047},{"r":"Fimbria","s":"left","t":"t2","v":0.046},{"r":"Fimbria","s":"left","t":"t2","v":0.044},{"r":"Fimbria","s":"left","t":"t2","v":0.042},{"r":"Fimbria","s":"left","t":"t2","v":0.040},{"r":"Fimbria","s":"left","t":"t2","v":0.036},
{"r":"Fimbria","s":"right","t":"t1","v":0.070},{"r":"Fimbria","s":"right","t":"t1","v":0.067},{"r":"Fimbria","s":"right","t":"t1","v":0.062},{"r":"Fimbria","s":"right","t":"t1","v":0.050},{"r":"Fimbria","s":"right","t":"t1","v":0.046},{"r":"Fimbria","s":"right","t":"t1","v":0.044},{"r":"Fimbria","s":"right","t":"t1","v":0.043},{"r":"Fimbria","s":"right","t":"t1","v":0.042},{"r":"Fimbria","s":"right","t":"t1","v":0.040},{"r":"Fimbria","s":"right","t":"t1","v":0.032},
{"r":"Fimbria","s":"right","t":"t2","v":0.071},{"r":"Fimbria","s":"right","t":"t2","v":0.068},{"r":"Fimbria","s":"right","t":"t2","v":0.060},{"r":"Fimbria","s":"right","t":"t2","v":0.052},{"r":"Fimbria","s":"right","t":"t2","v":0.047},{"r":"Fimbria","s":"right","t":"t2","v":0.044},{"r":"Fimbria","s":"right","t":"t2","v":0.040},{"r":"Fimbria","s":"right","t":"t2","v":0.036},{"r":"Fimbria","s":"right","t":"t2","v":0.033},{"r":"Fimbria","s":"right","t":"t2","v":0.020},
{"r":"Fimbria","s":"left","k":"sig","v":0.099},{"r":"Fimbria","k":"lim","v":-0.01},{"r":"Fimbria","k":"lim","v":0.113},
{"r":"HATA","s":"left","t":"t1","v":0.046},{"r":"HATA","s":"left","t":"t1","v":0.040},{"r":"HATA","s":"left","t":"t1","v":0.035},{"r":"HATA","s":"left","t":"t1","v":0.034},{"r":"HATA","s":"left","t":"t1","v":0.033},{"r":"HATA","s":"left","t":"t1","v":0.032},{"r":"HATA","s":"left","t":"t1","v":0.031},{"r":"HATA","s":"left","t":"t1","v":0.029},{"r":"HATA","s":"left","t":"t1","v":0.028},{"r":"HATA","s":"left","t":"t1","v":0.026},
{"r":"HATA","s":"left","t":"t2","v":0.047},{"r":"HATA","s":"left","t":"t2","v":0.042},{"r":"HATA","s":"left","t":"t2","v":0.040},{"r":"HATA","s":"left","t":"t2","v":0.037},{"r":"HATA","s":"left","t":"t2","v":0.035},{"r":"HATA","s":"left","t":"t2","v":0.034},{"r":"HATA","s":"left","t":"t2","v":0.033},{"r":"HATA","s":"left","t":"t2","v":0.032},{"r":"HATA","s":"left","t":"t2","v":0.030},{"r":"HATA","s":"left","t":"t2","v":0.028},
{"r":"HATA","s":"right","t":"t1","v":0.046},{"r":"HATA","s":"right","t":"t1","v":0.044},{"r":"HATA","s":"right","t":"t1","v":0.040},{"r":"HATA","s":"right","t":"t1","v":0.037},{"r":"HATA","s":"right","t":"t1","v":0.035},{"r":"HATA","s":"right","t":"t1","v":0.033},{"r":"HATA","s":"right","t":"t1","v":0.032},{"r":"HATA","s":"right","t":"t1","v":0.031},{"r":"HATA","s":"right","t":"t1","v":0.030},{"r":"HATA","s":"right","t":"t1","v":0.028},
{"r":"HATA","s":"right","t":"t2","v":0.050},{"r":"HATA","s":"right","t":"t2","v":0.045},{"r":"HATA","s":"right","t":"t2","v":0.040},{"r":"HATA","s":"right","t":"t2","v":0.038},{"r":"HATA","s":"right","t":"t2","v":0.036},{"r":"HATA","s":"right","t":"t2","v":0.035},{"r":"HATA","s":"right","t":"t2","v":0.034},{"r":"HATA","s":"right","t":"t2","v":0.032},{"r":"HATA","s":"right","t":"t2","v":0.030},{"r":"HATA","s":"right","t":"t2","v":0.026},
{"r":"HATA","s":"left","k":"sig","v":0.065},{"r":"HATA","k":"lim","v":0.0015},{"r":"HATA","k":"lim","v":0.073}
]
},
"spacing": 22,
"resolve": {"scale": {"color": "independent", "fill": "independent", "size": "independent", "xOffset": "independent"}},
"vconcat": [
{
"title": {"text": "(A) MSR group", "anchor": "start", "fontSize": 31, "font": "Lato", "fontWeight": "normal", "color": "#111", "offset": 4, "dx": -6},
"spacing": 20,
"resolve": {"scale": {"color": "independent", "fill": "independent", "size": "independent", "xOffset": "independent", "x": "independent"}},
"hconcat": [
{
"data": {"name": "WA"},
"width": 409, "height": 315,
"title": {"text": "Whole hippocampus", "fontSize": 23, "font": "Lato", "fontWeight": "normal", "color": "#111", "offset": 0, "dy": 14},
"resolve": {"scale": {"size": "independent"}},
"layer": [
{"transform": [{"filter": "datum.s=='left'&&datum.t=='t1'"},{"density": "v","groupby": ["s","t"],"extent": [1,4.3],"steps": 350,"as": ["v","d"]},{"joinaggregate": [{"op": "max","field": "d","as": "m"}],"groupby": ["s","t"]},{"filter": "datum.d>datum.m*0.01"}],
 "mark": {"type": "tick","thickness": 1.6,"opacity": 1},
 "encoding": {
  "x": {"field": "s","type": "nominal","scale": {"domain": ["left","right"],"paddingInner": 0,"paddingOuter": 0.05},"axis": {"title": null,"labelAngle": 0,"labelFontSize": 12,"labelColor": "#444","domainColor": "#777","tickColor": "#777","tickSize": 3,"labelPadding": 3}},
  "xOffset": {"field": "t","type": "nominal","scale": {"domain": ["t1","t2"],"range": [0,194.8],"paddingInner": 0,"paddingOuter": 0}},
  "y": {"field": "v","type": "quantitative","scale": {"domain": [1.23,4.3],"range": [315,18],"nice": false,"zero": false},"axis": {"title": "Normalized Volume","values": [1.5,2,2.5,3,3.5,4],"format": "~g","labelFontSize": 11,"labelColor": "#666","titleFontSize": 17,"titleFont": "Lato","titleFontWeight": "normal","titleColor": "#222","titlePadding": 12,"domainColor": "#777","tickSize": 0,"labelPadding": 8}},
  "size": {"field": "d","type": "quantitative","scale": {"zero": true,"range": [0,58]},"legend": null},
  "color": {"field": "t","type": "nominal","scale": {"domain": ["t1","t2"],"range": ["#9b9b9b","#e4a10f"]},"legend": {"orient": "none","legendX": 98,"legendY": 277,"direction": "horizontal","title": null,"symbolType": "M-1,-0.375H1V0.375H-1Z","symbolSize": 784,"symbolStrokeWidth": 0,"symbolOpacity": 1,"labelExpr": "'MSR' + datum.label","labelFontSize": 12,"labelColor": "#333","labelOffset": 3,"columnPadding": 5,"padding": 0}}}},
{"transform": [{"filter": "datum.s=='left'&&datum.t=='t2'"},{"density": "v","groupby": ["s","t"],"extent": [1,4.3],"steps": 350,"as": ["v","d"]},{"joinaggregate": [{"op": "max","field": "d","as": "m"}],"groupby": ["s","t"]},{"filter": "datum.d>datum.m*0.01"}],
 "mark": {"type": "tick","thickness": 1.6,"opacity": 1},
 "encoding": {"x": {"field": "s","type": "nominal"},"xOffset": {"field": "t","type": "nominal"},"y": {"field": "v","type": "quantitative"},"size": {"field": "d","type": "quantitative","scale": {"zero": true,"range": [0,58]},"legend": null},"color": {"field": "t","type": "nominal"}}},
{"transform": [{"filter": "datum.s=='right'&&datum.t=='t1'"},{"density": "v","groupby": ["s","t"],"extent": [1,4.3],"steps": 350,"as": ["v","d"]},{"joinaggregate": [{"op": "max","field": "d","as": "m"}],"groupby": ["s","t"]},{"filter": "datum.d>datum.m*0.01"}],
 "mark": {"type": "tick","thickness": 1.6,"opacity": 1},
 "encoding": {"x": {"field": "s","type": "nominal"},"xOffset": {"field": "t","type": "nominal"},"y": {"field": "v","type": "quantitative"},"size": {"field": "d","type": "quantitative","scale": {"zero": true,"range": [0,58]},"legend": null},"color": {"field": "t","type": "nominal"}}},
{"transform": [{"filter": "datum.s=='right'&&datum.t=='t2'"},{"density": "v","groupby": ["s","t"],"extent": [1,4.3],"steps": 350,"as": ["v","d"]},{"joinaggregate": [{"op": "max","field": "d","as": "m"}],"groupby": ["s","t"]},{"filter": "datum.d>datum.m*0.01"}],
 "mark": {"type": "tick","thickness": 1.6,"opacity": 1},
 "encoding": {"x": {"field": "s","type": "nominal"},"xOffset": {"field": "t","type": "nominal"},"y": {"field": "v","type": "quantitative"},"size": {"field": "d","type": "quantitative","scale": {"zero": true,"range": [0,58]},"legend": null},"color": {"field": "t","type": "nominal"}}},
{"transform": [{"filter": "datum.s=='right'&&datum.t=='t1'"},{"aggregate": [{"op": "count","as": "n"}],"groupby": ["s"]}],
 "mark": {"type": "rule","color": "#d0d0d0","strokeDash": [6,3,1,3],"strokeWidth": 1},
 "encoding": {"x": {"field": "s","type": "nominal","bandPosition": 0},"y": {"datum": 3.81,"type": "quantitative"},"y2": {"datum": 1.8}}},
{"transform": [{"filter": "isValid(datum.t)"}],
 "mark": {"type": "circle","size": 9,"color": "#333","opacity": 1},
 "encoding": {"x": {"field": "s","type": "nominal"},"xOffset": {"field": "t","type": "nominal"},"y": {"field": "v","type": "quantitative"}}},
{"transform": [{"filter": "isValid(datum.t)"}],
 "mark": {"type": "circle","size": 55,"opacity": 1},
 "encoding": {"x": {"field": "s","type": "nominal"},"xOffset": {"field": "t","type": "nominal"},"y": {"aggregate": "mean","field": "v","type": "quantitative"},
  "fill": {"datum": "Mean","type": "nominal","scale": {"range": ["#ff0000"]},"legend": {"orient": "none","legendX": 248,"legendY": 288,"title": null,"symbolType": "circle","symbolSize": 45,"symbolStrokeWidth": 0,"symbolOpacity": 1,"labelFontSize": 12,"labelColor": "#333","labelOffset": 13,"padding": 0}}}},
{"transform": [{"filter": "datum.k=='sig'"}],
 "mark": {"type": "tick","thickness": 3,"color": "#111","opacity": 1},
 "encoding": {"x": {"field": "s","type": "nominal"},"y": {"field": "v","type": "quantitative"},"size": {"value": 97}}},
{"transform": [{"filter": "datum.k=='sig'"}],
 "mark": {"type": "text","text": "*","fontSize": 22,"fontWeight": "bold","color": "#1c1c30","baseline": "alphabetic","dy": 5},
 "encoding": {"x": {"field": "s","type": "nominal"},"y": {"field": "v","type": "quantitative"}}}
]
},
{
"data": {"name": "A"},
"columns": 6,
"facet": {"field": "r","type": "nominal","sort": ["hippocampal tail","Subiculum","CA1","Fissure","Presubiculum","Parasubiculum","Molecular_layer","GC-ML-DG","CA3","CA4","Fimbria","HATA"],
 "header": {"title": null,"labelFontSize": 11.5,"labelFont": "Lato","labelFontWeight": "bold","labelColor": "#222","labelPadding": 0,"labelExpr": "indexof(['Subiculum','Molecular_layer','HATA'], datum.value) >= 0 ? datum.value + ' ‖' : datum.value"}},
"spacing": {"column": 13, "row": 13},
"resolve": {"scale": {"y": "independent","size": "independent"},"axis": {"x": "independent"}},
"spec": {
"width": 90, "height": 139,
"resolve": {"scale": {"size": "independent"}},
"layer": [
{"transform": [{"filter": "datum.s=='left'&&datum.t=='t1'"},{"density": "v","groupby": ["r","s","t"],"extent": [-0.02,0.8],"steps": 1000,"as": ["v","d"]},{"joinaggregate": [{"op": "max","field": "d","as": "m"}],"groupby": ["r","s","t"]},{"filter": "datum.d>datum.m*0.01"}],
 "mark": {"type": "tick","thickness": 2,"opacity": 1},
 "encoding": {
  "x": {"field": "s","type": "nominal","scale": {"domain": ["left","right"],"range": [0,90],"paddingInner": 0,"paddingOuter": 0},"axis": {"title": null,"labelAngle": 0,"labelFontSize": 7,"labelColor": "#666","domainColor": "#aaa","tickColor": "#aaa","tickSize": 2,"labelPadding": 2}},
  "xOffset": {"field": "t","type": "nominal","scale": {"domain": ["t1","t2"],"range": [0,45],"paddingInner": 0,"paddingOuter": 0}},
  "y": {"field": "v","type": "quantitative","scale": {"zero": false,"nice": false},"axis": {"title": null,"tickCount": 8,"format": "~g","labelFontSize": 7,"labelColor": "#666","domainColor": "#aaa","tickColor": "#aaa","tickSize": 2,"labelPadding": 2}},
  "size": {"field": "d","type": "quantitative","scale": {"zero": true,"range": [0,17]},"legend": null},
  "color": {"field": "t","type": "nominal","scale": {"domain": ["t1","t2"],"range": ["#9b9b9b","#e4a10f"]},"legend": null}}},
{"transform": [{"filter": "datum.s=='left'&&datum.t=='t2'"},{"density": "v","groupby": ["r","s","t"],"extent": [-0.02,0.8],"steps": 1000,"as": ["v","d"]},{"joinaggregate": [{"op": "max","field": "d","as": "m"}],"groupby": ["r","s","t"]},{"filter": "datum.d>datum.m*0.01"}],
 "mark": {"type": "tick","thickness": 2,"opacity": 1},
 "encoding": {"x": {"field": "s","type": "nominal"},"xOffset": {"field": "t","type": "nominal"},"y": {"field": "v","type": "quantitative"},"size": {"field": "d","type": "quantitative","scale": {"zero": true,"range": [0,17]},"legend": null},"color": {"field": "t","type": "nominal"}}},
{"transform": [{"filter": "datum.s=='right'&&datum.t=='t1'"},{"density": "v","groupby": ["r","s","t"],"extent": [-0.02,0.8],"steps": 1000,"as": ["v","d"]},{"joinaggregate": [{"op": "max","field": "d","as": "m"}],"groupby": ["r","s","t"]},{"filter": "datum.d>datum.m*0.01"}],
 "mark": {"type": "tick","thickness": 2,"opacity": 1},
 "encoding": {"x": {"field": "s","type": "nominal"},"xOffset": {"field": "t","type": "nominal"},"y": {"field": "v","type": "quantitative"},"size": {"field": "d","type": "quantitative","scale": {"zero": true,"range": [0,17]},"legend": null},"color": {"field": "t","type": "nominal"}}},
{"transform": [{"filter": "datum.s=='right'&&datum.t=='t2'"},{"density": "v","groupby": ["r","s","t"],"extent": [-0.02,0.8],"steps": 1000,"as": ["v","d"]},{"joinaggregate": [{"op": "max","field": "d","as": "m"}],"groupby": ["r","s","t"]},{"filter": "datum.d>datum.m*0.01"}],
 "mark": {"type": "tick","thickness": 2,"opacity": 1},
 "encoding": {"x": {"field": "s","type": "nominal"},"xOffset": {"field": "t","type": "nominal"},"y": {"field": "v","type": "quantitative"},"size": {"field": "d","type": "quantitative","scale": {"zero": true,"range": [0,17]},"legend": null},"color": {"field": "t","type": "nominal"}}},
{"transform": [{"filter": "datum.s=='right'&&datum.t=='t1'"},{"aggregate": [{"op": "count","as": "n"}],"groupby": ["r","s"]}],
 "mark": {"type": "rule","color": "#d0d0d0","strokeDash": [3,2],"strokeWidth": 1},
 "encoding": {"x": {"field": "s","type": "nominal","bandPosition": 0}}},
{"transform": [{"filter": "isValid(datum.t)"}],
 "mark": {"type": "circle","size": 2.5,"color": "#333","opacity": 1},
 "encoding": {"x": {"field": "s","type": "nominal"},"xOffset": {"field": "t","type": "nominal"},"y": {"field": "v","type": "quantitative"}}},
{"transform": [{"filter": "isValid(datum.t)"}],
 "mark": {"type": "circle","size": 16,"color": "#ff0000","opacity": 1},
 "encoding": {"x": {"field": "s","type": "nominal"},"xOffset": {"field": "t","type": "nominal"},"y": {"aggregate": "mean","field": "v","type": "quantitative"}}},
{"transform": [{"filter": "datum.k=='sig'"}],
 "mark": {"type": "tick","thickness": 1.2,"color": "#666","opacity": 1},
 "encoding": {"x": {"field": "s","type": "nominal"},"y": {"field": "v","type": "quantitative"},"size": {"value": 22}}},
{"transform": [{"filter": "datum.k=='sig'"}],
 "mark": {"type": "text","text": "*","fontSize": 9,"color": "#444","baseline": "alphabetic","dy": 2},
 "encoding": {"x": {"field": "s","type": "nominal"},"y": {"field": "v","type": "quantitative"}}},
{"transform": [{"filter": "datum.k=='lim'"}],
 "mark": {"type": "point","opacity": 0},
 "encoding": {"y": {"field": "v","type": "quantitative"}}}
]
}
}
]
},
{
"title": {"text": "(B) MNR group", "anchor": "start", "fontSize": 31, "font": "Lato", "fontWeight": "normal", "color": "#111", "offset": 1, "dx": -6},
"spacing": 20,
"resolve": {"scale": {"color": "independent", "fill": "independent", "size": "independent", "xOffset": "independent", "x": "independent"}},
"hconcat": [
{
"data": {"name": "WB"},
"width": 409, "height": 316,
"title": {"text": "Whole hippocampus", "fontSize": 23, "font": "Lato", "fontWeight": "normal", "color": "#111", "offset": 0, "dy": 3},
"resolve": {"scale": {"size": "independent"}},
"layer": [
{"transform": [{"filter": "datum.s=='left'&&datum.t=='t1'"},{"density": "v","groupby": ["s","t"],"extent": [0.88,4.29],"steps": 360,"as": ["v","d"]},{"joinaggregate": [{"op": "max","field": "d","as": "m"}],"groupby": ["s","t"]},{"filter": "datum.d>datum.m*0.01"}],
 "mark": {"type": "tick","thickness": 1.6,"opacity": 1},
 "encoding": {
  "x": {"field": "s","type": "nominal","scale": {"domain": ["left","right"],"paddingInner": 0,"paddingOuter": 0.05},"axis": {"title": null,"labelAngle": 0,"labelFontSize": 12,"labelColor": "#444","domainColor": "#777","tickColor": "#777","tickSize": 3,"labelPadding": 2}},
  "xOffset": {"field": "t","type": "nominal","scale": {"domain": ["t1","t2"],"range": [0,194.8],"paddingInner": 0,"paddingOuter": 0}},
  "y": {"field": "v","type": "quantitative","scale": {"domain": [0.87,4.29],"range": [316,20],"nice": false,"zero": false},"axis": {"title": "Normalized Volume","values": [1,1.5,2,2.5,3,3.5,4],"format": "~g","labelFontSize": 11,"labelColor": "#666","titleFontSize": 17,"titleFont": "Lato","titleFontWeight": "normal","titleColor": "#222","titlePadding": 12,"domainColor": "#777","tickSize": 0,"labelPadding": 8}},
  "size": {"field": "d","type": "quantitative","scale": {"zero": true,"range": [0,58]},"legend": null},
  "color": {"field": "t","type": "nominal","scale": {"domain": ["t1","t2"],"range": ["#9b9b9b","#e4a10f"]},"legend": {"orient": "none","legendX": 93,"legendY": 285,"direction": "horizontal","title": null,"symbolType": "M-1,-0.375H1V0.375H-1Z","symbolSize": 784,"symbolStrokeWidth": 0,"symbolOpacity": 1,"labelExpr": "'MNR' + datum.label","labelFontSize": 12,"labelColor": "#333","labelOffset": 3,"columnPadding": 5,"padding": 0}}}},
{"transform": [{"filter": "datum.s=='left'&&datum.t=='t2'"},{"density": "v","groupby": ["s","t"],"extent": [0.88,4.29],"steps": 360,"as": ["v","d"]},{"joinaggregate": [{"op": "max","field": "d","as": "m"}],"groupby": ["s","t"]},{"filter": "datum.d>datum.m*0.01"}],
 "mark": {"type": "tick","thickness": 1.6,"opacity": 1},
 "encoding": {"x": {"field": "s","type": "nominal"},"xOffset": {"field": "t","type": "nominal"},"y": {"field": "v","type": "quantitative"},"size": {"field": "d","type": "quantitative","scale": {"zero": true,"range": [0,58]},"legend": null},"color": {"field": "t","type": "nominal"}}},
{"transform": [{"filter": "datum.s=='right'&&datum.t=='t1'"},{"density": "v","groupby": ["s","t"],"extent": [0.88,4.29],"steps": 360,"as": ["v","d"]},{"joinaggregate": [{"op": "max","field": "d","as": "m"}],"groupby": ["s","t"]},{"filter": "datum.d>datum.m*0.01"}],
 "mark": {"type": "tick","thickness": 1.6,"opacity": 1},
 "encoding": {"x": {"field": "s","type": "nominal"},"xOffset": {"field": "t","type": "nominal"},"y": {"field": "v","type": "quantitative"},"size": {"field": "d","type": "quantitative","scale": {"zero": true,"range": [0,58]},"legend": null},"color": {"field": "t","type": "nominal"}}},
{"transform": [{"filter": "datum.s=='right'&&datum.t=='t2'"},{"density": "v","groupby": ["s","t"],"extent": [0.88,4.29],"steps": 360,"as": ["v","d"]},{"joinaggregate": [{"op": "max","field": "d","as": "m"}],"groupby": ["s","t"]},{"filter": "datum.d>datum.m*0.01"}],
 "mark": {"type": "tick","thickness": 1.6,"opacity": 1},
 "encoding": {"x": {"field": "s","type": "nominal"},"xOffset": {"field": "t","type": "nominal"},"y": {"field": "v","type": "quantitative"},"size": {"field": "d","type": "quantitative","scale": {"zero": true,"range": [0,58]},"legend": null},"color": {"field": "t","type": "nominal"}}},
{"transform": [{"filter": "datum.s=='right'&&datum.t=='t1'"},{"aggregate": [{"op": "count","as": "n"}],"groupby": ["s"]}],
 "mark": {"type": "rule","color": "#d0d0d0","strokeDash": [6,3,1,3],"strokeWidth": 1},
 "encoding": {"x": {"field": "s","type": "nominal","bandPosition": 0},"y": {"datum": 4.0,"type": "quantitative"},"y2": {"datum": 1.25}}},
{"transform": [{"filter": "isValid(datum.t)"}],
 "mark": {"type": "circle","size": 9,"color": "#333","opacity": 1},
 "encoding": {"x": {"field": "s","type": "nominal"},"xOffset": {"field": "t","type": "nominal"},"y": {"field": "v","type": "quantitative"}}},
{"transform": [{"filter": "isValid(datum.t)"}],
 "mark": {"type": "circle","size": 55,"opacity": 1},
 "encoding": {"x": {"field": "s","type": "nominal"},"xOffset": {"field": "t","type": "nominal"},"y": {"aggregate": "mean","field": "v","type": "quantitative"},
  "fill": {"datum": "Mean","type": "nominal","scale": {"range": ["#ff0000"]},"legend": {"orient": "none","legendX": 249,"legendY": 296,"title": null,"symbolType": "circle","symbolSize": 45,"symbolStrokeWidth": 0,"symbolOpacity": 1,"labelFontSize": 12,"labelColor": "#333","labelOffset": 13,"padding": 0}}}},
{"transform": [{"filter": "datum.k=='sig'"}],
 "mark": {"type": "tick","thickness": 3,"color": "#111","opacity": 1},
 "encoding": {"x": {"field": "s","type": "nominal"},"y": {"field": "v","type": "quantitative"},"size": {"value": 97}}},
{"transform": [{"filter": "datum.k=='sig'"}],
 "mark": {"type": "text","text": "*","fontSize": 22,"fontWeight": "bold","color": "#1c1c30","baseline": "alphabetic","dy": 5},
 "encoding": {"x": {"field": "s","type": "nominal"},"y": {"field": "v","type": "quantitative"}}}
]
},
{
"data": {"name": "B"},
"columns": 6,
"facet": {"field": "r","type": "nominal","sort": ["hippocampal tail","Subiculum","CA1","Fissure","Presubiculum","Parasubiculum","Molecular_layer","GC-ML-DG","CA3","CA4","Fimbria","HATA"],
 "header": {"title": null,"labelFontSize": 11.5,"labelFont": "Lato","labelFontWeight": "bold","labelColor": "#222","labelPadding": 0,"labelExpr": "datum.value == 'Fissure' ? datum.value + ' ‖' : datum.value"}},
"spacing": {"column": 13, "row": 13},
"resolve": {"scale": {"y": "independent","size": "independent"},"axis": {"x": "independent"}},
"spec": {
"width": 90, "height": 139,
"resolve": {"scale": {"size": "independent"}},
"layer": [
{"transform": [{"filter": "datum.s=='left'&&datum.t=='t1'"},{"density": "v","groupby": ["r","s","t"],"extent": [-0.02,0.8],"steps": 1000,"as": ["v","d"]},{"joinaggregate": [{"op": "max","field": "d","as": "m"}],"groupby": ["r","s","t"]},{"filter": "datum.d>datum.m*0.01"}],
 "mark": {"type": "tick","thickness": 2,"opacity": 1},
 "encoding": {
  "x": {"field": "s","type": "nominal","scale": {"domain": ["left","right"],"range": [0,90],"paddingInner": 0,"paddingOuter": 0},"axis": {"title": null,"labelAngle": 0,"labelFontSize": 7,"labelColor": "#666","domainColor": "#aaa","tickColor": "#aaa","tickSize": 2,"labelPadding": 2}},
  "xOffset": {"field": "t","type": "nominal","scale": {"domain": ["t1","t2"],"range": [0,45],"paddingInner": 0,"paddingOuter": 0}},
  "y": {"field": "v","type": "quantitative","scale": {"zero": false,"nice": false},"axis": {"title": null,"tickCount": 8,"format": "~g","labelFontSize": 7,"labelColor": "#666","domainColor": "#aaa","tickColor": "#aaa","tickSize": 2,"labelPadding": 2}},
  "size": {"field": "d","type": "quantitative","scale": {"zero": true,"range": [0,17]},"legend": null},
  "color": {"field": "t","type": "nominal","scale": {"domain": ["t1","t2"],"range": ["#9b9b9b","#e4a10f"]},"legend": null}}},
{"transform": [{"filter": "datum.s=='left'&&datum.t=='t2'"},{"density": "v","groupby": ["r","s","t"],"extent": [-0.02,0.8],"steps": 1000,"as": ["v","d"]},{"joinaggregate": [{"op": "max","field": "d","as": "m"}],"groupby": ["r","s","t"]},{"filter": "datum.d>datum.m*0.01"}],
 "mark": {"type": "tick","thickness": 2,"opacity": 1},
 "encoding": {"x": {"field": "s","type": "nominal"},"xOffset": {"field": "t","type": "nominal"},"y": {"field": "v","type": "quantitative"},"size": {"field": "d","type": "quantitative","scale": {"zero": true,"range": [0,17]},"legend": null},"color": {"field": "t","type": "nominal"}}},
{"transform": [{"filter": "datum.s=='right'&&datum.t=='t1'"},{"density": "v","groupby": ["r","s","t"],"extent": [-0.02,0.8],"steps": 1000,"as": ["v","d"]},{"joinaggregate": [{"op": "max","field": "d","as": "m"}],"groupby": ["r","s","t"]},{"filter": "datum.d>datum.m*0.01"}],
 "mark": {"type": "tick","thickness": 2,"opacity": 1},
 "encoding": {"x": {"field": "s","type": "nominal"},"xOffset": {"field": "t","type": "nominal"},"y": {"field": "v","type": "quantitative"},"size": {"field": "d","type": "quantitative","scale": {"zero": true,"range": [0,17]},"legend": null},"color": {"field": "t","type": "nominal"}}},
{"transform": [{"filter": "datum.s=='right'&&datum.t=='t2'"},{"density": "v","groupby": ["r","s","t"],"extent": [-0.02,0.8],"steps": 1000,"as": ["v","d"]},{"joinaggregate": [{"op": "max","field": "d","as": "m"}],"groupby": ["r","s","t"]},{"filter": "datum.d>datum.m*0.01"}],
 "mark": {"type": "tick","thickness": 2,"opacity": 1},
 "encoding": {"x": {"field": "s","type": "nominal"},"xOffset": {"field": "t","type": "nominal"},"y": {"field": "v","type": "quantitative"},"size": {"field": "d","type": "quantitative","scale": {"zero": true,"range": [0,17]},"legend": null},"color": {"field": "t","type": "nominal"}}},
{"transform": [{"filter": "datum.s=='right'&&datum.t=='t1'"},{"aggregate": [{"op": "count","as": "n"}],"groupby": ["r","s"]}],
 "mark": {"type": "rule","color": "#d0d0d0","strokeDash": [3,2],"strokeWidth": 1},
 "encoding": {"x": {"field": "s","type": "nominal","bandPosition": 0}}},
{"transform": [{"filter": "isValid(datum.t)"}],
 "mark": {"type": "circle","size": 2.5,"color": "#333","opacity": 1},
 "encoding": {"x": {"field": "s","type": "nominal"},"xOffset": {"field": "t","type": "nominal"},"y": {"field": "v","type": "quantitative"}}},
{"transform": [{"filter": "isValid(datum.t)"}],
 "mark": {"type": "circle","size": 16,"color": "#ff0000","opacity": 1},
 "encoding": {"x": {"field": "s","type": "nominal"},"xOffset": {"field": "t","type": "nominal"},"y": {"aggregate": "mean","field": "v","type": "quantitative"}}},
{"transform": [{"filter": "datum.k=='sig'"}],
 "mark": {"type": "tick","thickness": 1.2,"color": "#666","opacity": 1},
 "encoding": {"x": {"field": "s","type": "nominal"},"y": {"field": "v","type": "quantitative"},"size": {"value": 22}}},
{"transform": [{"filter": "datum.k=='sig'"}],
 "mark": {"type": "text","text": "*","fontSize": 9,"color": "#444","baseline": "alphabetic","dy": 2},
 "encoding": {"x": {"field": "s","type": "nominal"},"y": {"field": "v","type": "quantitative"}}},
{"transform": [{"filter": "datum.k=='lim'"}],
 "mark": {"type": "point","opacity": 0},
 "encoding": {"y": {"field": "v","type": "quantitative"}}}
]
}
}
]
}
]
}
